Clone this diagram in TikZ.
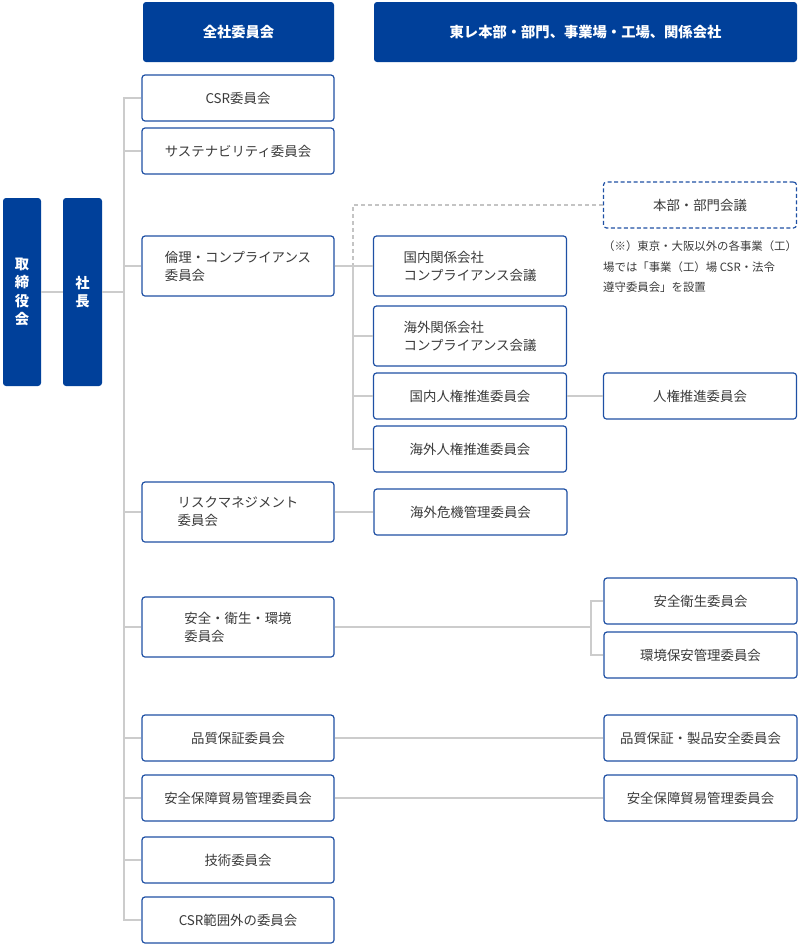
\documentclass[tikz,border=0pt]{standalone}
\usepackage{fontspec}
\setmainfont{Noto Sans CJK JP}
\usepackage{xcolor}
\usepackage{tikz}
\usetikzlibrary{positioning}
\definecolor{hdblue}{HTML}{00409A}
\definecolor{bxblue}{HTML}{1F50A4}
\definecolor{txtgray}{HTML}{3A3A3A}
\definecolor{lngray}{HTML}{CCCCCC}
\definecolor{dshgray}{HTML}{C4C4C4}

\begin{document}
\begin{tikzpicture}[x=1pt, y=-1pt,
  every node/.style={font=\fontsize{13.4}{18}\selectfont, text=txtgray},
  head/.style={fill=hdblue, rounded corners=3pt, inner sep=0pt, text=white,
    font=\fontsize{14.3}{18.5}\selectfont\bfseries},
  cbox/.style={draw=bxblue, line width=1.2pt, rounded corners=3pt, fill=white,
    minimum width=192pt, minimum height=46pt, inner sep=0pt, align=left},
  tall/.style={minimum height=60pt},
  conn/.style={draw=lngray, line width=2pt},
  dconn/.style={draw=dshgray, line width=1.6pt, dash pattern=on 4pt off 3pt}]
\useasboundingbox (0,0) rectangle (800,948);
% headers
\node[head, minimum width=191pt, minimum height=60pt] (zensha) at (238.5,32) {全社委員会};
\node[head, minimum width=423pt, minimum height=60pt] (toray) at (585.5,32) {東レ本部・部門、事業場・工場、関係会社};
% board and president
\node[head, minimum width=38pt, minimum height=188pt, align=center] (board) at (22,292) {取\\締\\役\\会};
\node[head, minimum width=39pt, minimum height=188pt, align=center] (shacho) at (82.5,292) {社\\長};
% company-wide committees
\node[cbox] (csr) at (238,98) {CSR委員会};
\node[cbox] (sus) at (238,151) {サステナビリティ委員会};
\node[cbox, tall] (eth) at (238,266) {倫理・コンプライアンス\\委員会};
\node[cbox, tall] (risk) at (238,512) {リスクマネジメント\\委員会};
\node[cbox, tall] (safe) at (238,627) {安全・衛生・環境\\委員会};
\node[cbox] (qa) at (238,738) {品質保証委員会};
\node[cbox] (sec) at (238,798) {安全保障貿易管理委員会};
\node[cbox] (tech) at (238,860) {技術委員会};
\node[cbox] (other) at (238,920) {CSR範囲外の委員会};
% affiliates / overseas
\node[cbox, tall, minimum width=193pt] (domcomp) at (470,266) {国内関係会社\\コンプライアンス会議};
\node[cbox, tall, minimum width=193pt] (ovscomp) at (470,336) {海外関係会社\\コンプライアンス会議};
\node[cbox, minimum width=193pt] (domhr) at (470,396) {国内人権推進委員会};
\node[cbox, minimum width=193pt] (ovshr) at (470,449) {海外人権推進委員会};
\node[cbox, minimum width=193pt] (crisis) at (470.5,512) {海外危機管理委員会};
% divisions and plants
\node[cbox, dashed, dash pattern=on 4pt off 2.5pt, minimum width=193pt] (honbu) at (700,205) {本部・部門会議};
\node[anchor=north west, align=left, inner sep=0pt, font=\fontsize{11.4}{20.5}\selectfont] (note) at (603,241)
  {（※）東京・大阪以外の各事業（工）\\場では「事業（工）場 CSR・法令\\遵守委員会」を設置};
\node[cbox, minimum width=193pt] (hr) at (700,396) {人権推進委員会};
\node[cbox, minimum width=193pt] (hyg) at (700.5,601) {安全衛生委員会};
\node[cbox, minimum width=193pt] (env) at (700.5,655) {環境保安管理委員会};
\node[cbox, minimum width=193pt] (qps) at (700.5,738) {品質保証・製品安全委員会};
\node[cbox, minimum width=193pt] (secr) at (700.5,798) {安全保障貿易管理委員会};
% main trunk
\coordinate (trunk) at (124,0);
\draw[conn] (board.east) -- (shacho.west);
\draw[conn] (shacho.east) -- (shacho.east -| trunk);
\draw[conn] (csr.west) -- (csr.west -| trunk) -- (other.west -| trunk) -- (other.west);
\foreach \n in {sus,eth,risk,safe,qa,sec,tech}
  \draw[conn] (\n.west -| trunk) -- (\n.west);
% compliance trunk
\coordinate (mid) at (353,0);
\draw[dconn] (honbu.west) -- (honbu.west -| mid) -- (eth.east -| mid);
\draw[conn] (eth.east) -- (domcomp.west);
\draw[conn] (eth.east -| mid) -- (ovshr.west -| mid) -- (ovshr.west);
\foreach \n in {ovscomp,domhr}
  \draw[conn] (\n.west -| mid) -- (\n.west);
\draw[conn] (domhr.east) -- (hr.west);
\draw[conn] (risk.east) -- (crisis.west);
% safety fork
\coordinate (fork) at (591,0);
\draw[conn] (safe.east) -- (safe.east -| fork);
\draw[conn] (hyg.west) -- (hyg.west -| fork) -- (env.west -| fork) -- (env.west);
\draw[conn] (qa.east) -- (qps.west);
\draw[conn] (sec.east) -- (secr.west);
\end{tikzpicture}
\end{document}
